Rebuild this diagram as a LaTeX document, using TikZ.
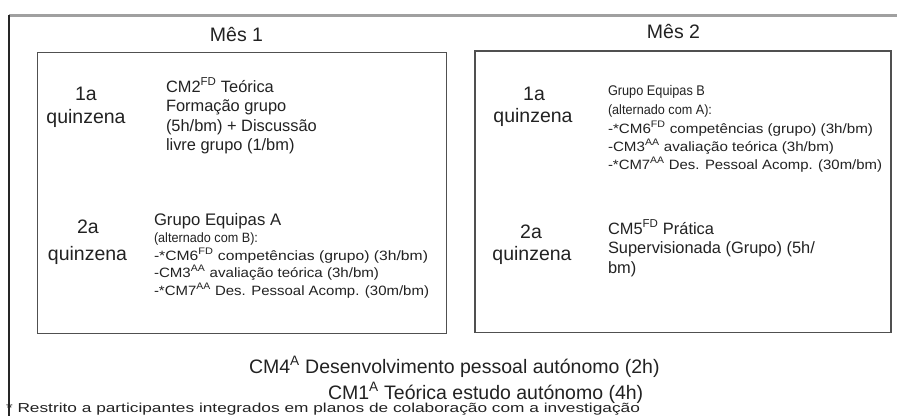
\documentclass[tikz,border=0pt]{standalone}
\usepackage{fontspec}
\setmainfont{Liberation Sans}
\usepackage{graphicx}
\definecolor{ink}{HTML}{222222}
\definecolor{boxc}{HTML}{505050}
\definecolor{topc}{HTML}{A0A0A0}
\newcommand{\fitw}[2]{\resizebox{#1}{\height}{#2}}
\begin{document}
\begin{tikzpicture}[x=1pt,y=-1pt,
  txt/.style={inner sep=0pt, outer sep=0pt, text=ink, anchor=base west},
  big/.style={txt, font=\fontsize{19.5}{19.5}\selectfont},
  bigc/.style={big, anchor=base},
  mid/.style={txt, font=\fontsize{16.4}{16.4}\selectfont},
  lst/.style={txt, font=\fontsize{13.5}{13.5}\selectfont},
  foot/.style={txt, font=\fontsize{13}{13}\selectfont},
  frame/.style={draw=boxc, line width=1.4pt},
]
\useasboundingbox (0,0) rectangle (897,416);
\fill[white] (0,0) rectangle (897,416);
% outer frame (open)
\draw[topc, line width=3pt] (9,15) -- (897,15);
\draw[black!85, line width=1.5pt] (9,15) -- (9,416);
% month boxes
\draw[frame] (37.7,52.7) rectangle (446.7,333.3);
\draw[frame] (475,51) rectangle (891,332.5);
% headings
\node[bigc] (m1) at (236.5,41) {Mês 1};
\node[bigc] (m2) at (673.5,38) {Mês 2};
% left box
\node[bigc] (l1a) at (86,100) {1a};
\node[bigc] (l1q) at (86,123) {quinzena};
\node[bigc] (l2a) at (88,233) {2a};
\node[bigc] (l2q) at (87.5,260) {quinzena};
\node[mid] (c2a) at (166,92) {CM2\textsuperscript{FD} Teórica};
\node[mid] (c2b) at (166,111.5) {Formação grupo};
\node[mid] (c2c) at (166,131) {(5h/bm) + Discussão};
\node[mid] (c2d) at (166,150) {livre grupo (1/bm)};
\node[txt, font=\fontsize{16.7}{16.7}\selectfont] (ga) at (154,225) {Grupo Equipas A};
\node[lst] (gaalt) at (154,242) {\fitw{104pt}{(alternado com B):}};
\node[lst] (ga6) at (154,260) {\fitw{274pt}{-*CM6\textsuperscript{FD} competências (grupo) (3h/bm)}};
\node[lst] (ga3) at (154,277) {\fitw{225pt}{-CM3\textsuperscript{AA} avaliação teórica (3h/bm)}};
\node[lst] (ga7) at (154,295) {\fitw{275pt}{-*CM7\textsuperscript{AA} Des. Pessoal Acomp. (30m/bm)}};
% right box
\node[bigc] (r1a) at (534,100) {1a};
\node[bigc] (r1q) at (533,122) {quinzena};
\node[bigc] (r2a) at (531,238) {2a};
\node[bigc] (r2q) at (532,260) {quinzena};
\node[txt, font=\fontsize{14}{14}\selectfont] (gb) at (608,95) {\fitw{97pt}{Grupo Equipas B}};
\node[lst] (gbalt) at (608,114) {\fitw{104pt}{(alternado com A):}};
\node[lst] (gb6) at (608,133) {\fitw{265pt}{-*CM6\textsuperscript{FD} competências (grupo) (3h/bm)}};
\node[lst] (gb3) at (608,151) {\fitw{226pt}{-CM3\textsuperscript{AA} avaliação teórica (3h/bm)}};
\node[lst] (gb7) at (608,169) {\fitw{274pt}{-*CM7\textsuperscript{AA} Des. Pessoal Acomp. (30m/bm)}};
\node[mid] (c5a) at (608,234) {CM5\textsuperscript{FD} Prática};
\node[mid] (c5b) at (608,253.5) {Supervisionada (Grupo) (5h/};
\node[mid] (c5c) at (608,273) {bm)};
% bottom lines
\node[big] (cm4) at (249,373) {CM4\textsuperscript{A} Desenvolvimento pessoal autónomo (2h)};
\node[big] (cm1) at (328,399) {CM1\textsuperscript{A} Teórica estudo autónomo (4h)};
\node[foot] (fn) at (6,412.5) {\fitw{634pt}{* Restrito a participantes integrados em planos de colaboração com a investigação}};
\end{tikzpicture}
\end{document}
